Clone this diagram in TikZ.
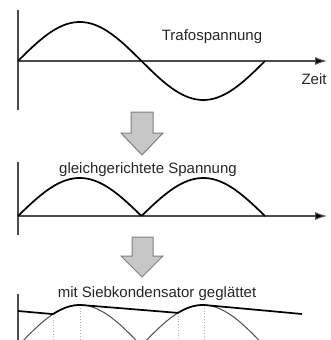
\documentclass[tikz,border=0pt]{standalone}
\usepackage{fontspec}
\setmainfont{Liberation Sans}
\usetikzlibrary{arrows.meta}
\tikzset{
  axisline/.style={draw=black!70, line width=1.1pt},
  axisarrow/.style={axisline, -{Latex[length=12pt,width=8pt,fill=black]}},
  curve/.style={draw=black, line width=1.7pt, line join=round},
  thincurve/.style={draw=black!70, line width=1pt},
  helper/.style={draw=black!30, line width=0.8pt, dotted},
  blockarrow/.style={draw=black!50, fill=black!22, line width=1pt, line join=miter},
  lbl/.style={font=\fontsize{15}{17}\selectfont, text=black!85, inner sep=0pt, anchor=base}
}
\begin{document}
\begin{tikzpicture}[x=1pt,y=-1pt]
\useasboundingbox (0,0) rectangle (331,340);
\clip (0,0) rectangle (331,340);
% ---------- panel 1 ----------
\coordinate (a1top) at (18,10);
\coordinate (a1bot) at (18,110);
\coordinate (h1s) at (18,61);
\coordinate (h1e) at (327,61);
\draw[axisline] (a1top) -- (a1bot);
\draw[axisarrow] (h1s) -- (h1e);
\draw[curve] plot[domain=18:265, samples=120] (\x, {61 - 39*sin((\x-18)/247*360)});
\node[lbl] (trafo) at (212,40) {Trafospannung};
\node[lbl] (zeit) at (314,84) {Zeit};
% ---------- arrow 1 ----------
\draw[blockarrow] (131,112) -- (153,112) -- (153,133) -- (163,133) -- (142,155) -- (121,133) -- (131,133) -- cycle;
% ---------- panel 2 ----------
\coordinate (a2top) at (18,162);
\coordinate (a2bot) at (18,235);
\coordinate (h2s) at (18,216);
\coordinate (h2e) at (327,216);
\draw[axisline] (a2top) -- (a2bot);
\draw[axisarrow] (h2s) -- (h2e);
\draw[curve] plot[domain=18:265, samples=160] (\x, {216 - 38*abs(sin((\x-18)/247*360))});
\node[lbl] (gleich) at (148,173) {gleichgerichtete Spannung};
% ---------- arrow 2 ----------
\draw[blockarrow] (132,237) -- (153,237) -- (153,256) -- (163,256) -- (142,277) -- (121,256) -- (132,256) -- cycle;
% ---------- panel 3 ----------
\node[lbl] (sieb) at (157,297) {mit Siebkondensator geglättet};
\coordinate (a3top) at (18,294);
\coordinate (a3bot) at (18,340);
\draw[axisline] (a3top) -- (a3bot);
\draw[helper] (53,314) -- (53,340);
\draw[helper] (80,305) -- (80,340);
\draw[helper] (178,313) -- (178,340);
\draw[helper] (204,305) -- (204,340);
\draw[thincurve] plot[domain=18:141, samples=80] (\x, {346 - 41*sin((\x-18)/123.5*180)});
\draw[thincurve] plot[domain=141:265, samples=80] (\x, {346 - 41*sin((\x-141)/123.5*180)});
\draw[curve] (18,311) -- (53,314.1)
  -- plot[domain=53:83, samples=20] (\x, {346 - 41*sin((\x-18)/123.5*180)})
  -- (178,312.9)
  -- plot[domain=178:207, samples=20] (\x, {346 - 41*sin((\x-141)/123.5*180)})
  -- (302,314);
\end{tikzpicture}
\end{document}
